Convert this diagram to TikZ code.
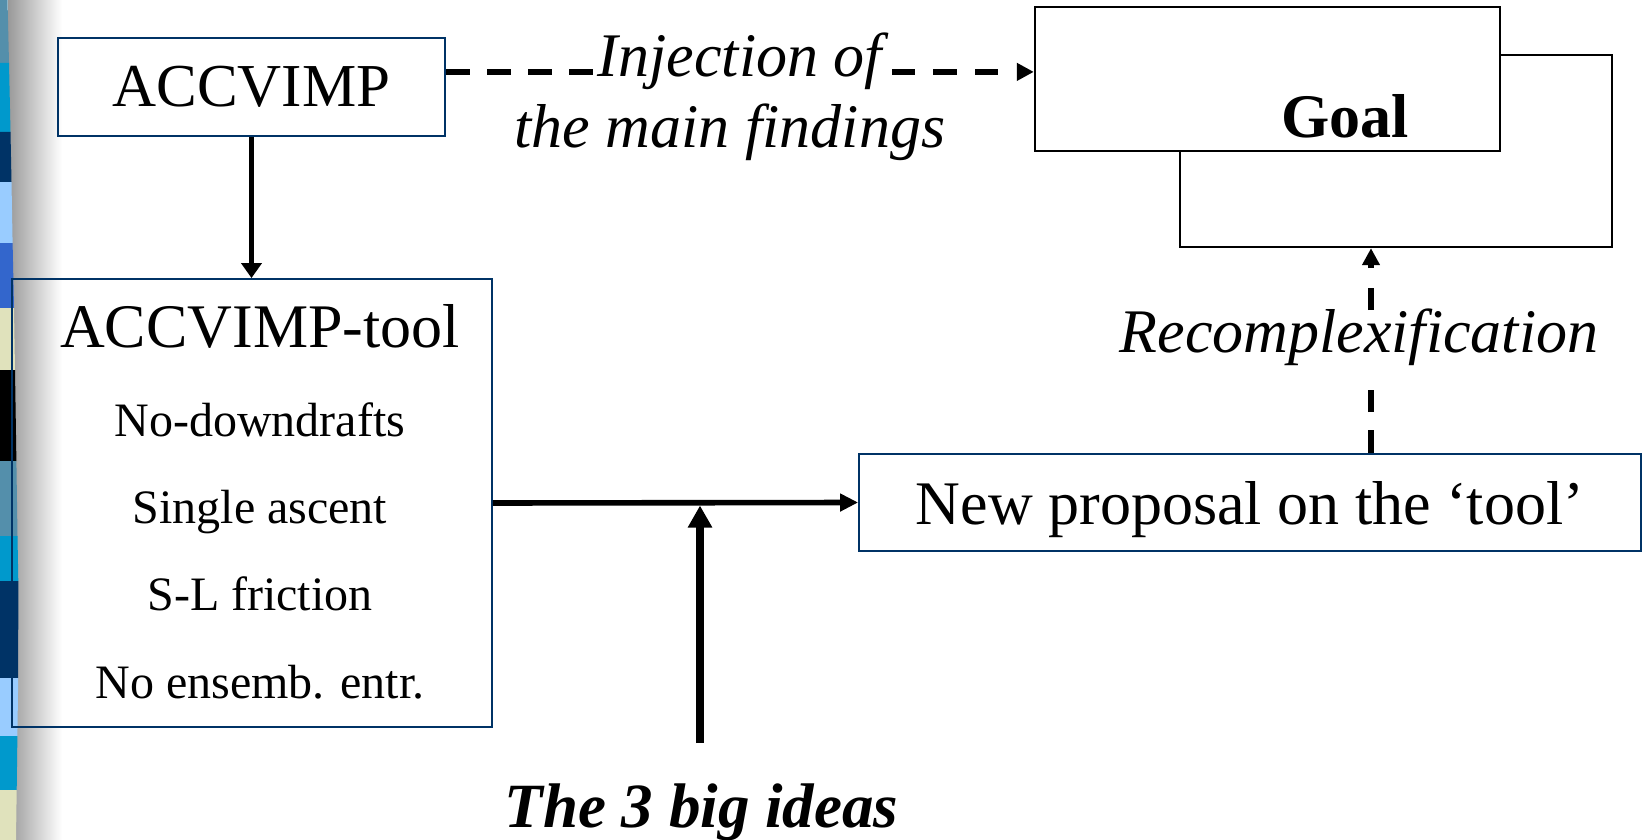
\documentclass[tikz,border=0pt]{standalone}
\usepackage{fontspec}
\setmainfont{Liberation Serif}
\usetikzlibrary{arrows.meta,calc}
\definecolor{navy}{RGB}{0,51,102}
\definecolor{steel}{RGB}{84,143,171}
\definecolor{cyanb}{RGB}{0,153,204}
\definecolor{lightb}{RGB}{153,204,255}
\definecolor{royal}{RGB}{51,102,204}
\definecolor{khaki}{RGB}{224,226,188}
\newcommand\stripseg[5]{\fill[#1] (0,#2) -- (#3,#2) -- (#5,#4) -- (0,#4) -- cycle;}
\tikzset{
  navybox/.style={draw=navy, line width=0.9pt, rectangle, inner sep=0pt},
  goalbox/.style={draw=black, line width=1.2pt, fill=white, rectangle, inner sep=0pt},
  bigtxt/.style={font=\fontsize{31pt}{37pt}\selectfont, inner sep=0pt},
  bigit/.style={font=\fontsize{31pt}{37pt}\selectfont\itshape, inner sep=0pt},
  bigbf/.style={font=\fontsize{31pt}{37pt}\selectfont\bfseries, inner sep=0pt},
  bigbfit/.style={font=\fontsize{31.5pt}{37pt}\selectfont\bfseries\itshape, inner sep=0pt},
  itemtxt/.style={font=\fontsize{24pt}{29pt}\selectfont, inner sep=0pt, anchor=base},
  downarrow/.style={line width=2.5pt, -{Triangle[length=7.5pt,width=10pt]}},
  rightarrow/.style={line width=2.8pt, -{Triangle[length=9pt,width=8.5pt]}},
  thickarrow/.style={line width=4pt, -{Triangle[length=11pt,width=11.5pt]}},
  dasharrow/.style={line width=2.8pt, -{Triangle[length=8.5pt,width=8.5pt]}},
  injdash/.style={dash pattern=on 12pt off 8.5pt on 12pt off 8.5pt on 12pt off 8.5pt on 12pt off 149.5pt on 11.5pt off 9pt on 12pt off 9pt on 11.5pt off 30pt},
  recdash/.style={dash pattern=on 11.5pt off 9pt on 11pt off 40pt on 11pt off 10pt on 10pt off 20pt},
}
\begin{document}
\begin{tikzpicture}[x=0.5pt,y=-0.5pt]
\useasboundingbox (0,0) rectangle (1644,840);
% left decoration
\shade[left color=black!40, right color=white] (8,0) rectangle (62,840);
\stripseg{steel}{0}{7.5}{63}{9}
\stripseg{cyanb}{63}{9}{132}{10.5}
\stripseg{navy}{132}{10.5}{182}{11.5}
\stripseg{lightb}{182}{11.5}{243}{12.6}
\stripseg{royal}{243}{12.6}{308}{14}
\stripseg{khaki}{308}{14}{370}{15}
\stripseg{black}{370}{15}{461}{16.4}
\stripseg{steel}{461}{16.4}{536}{17.5}
\stripseg{cyanb}{536}{17.5}{581}{18.3}
\stripseg{navy}{581}{18.3}{678}{18.2}
\stripseg{lightb}{678}{18.2}{736}{17.4}
\stripseg{cyanb}{736}{17.4}{790}{16.7}
\stripseg{khaki}{790}{16.7}{840}{16}

% boxes
\node[navybox, line width=1.35pt, minimum width=193.5pt, minimum height=49pt, bigtxt, font=\fontsize{30.5pt}{36pt}\selectfont] (acc) at (251.5,87) {ACCVIMP};
\node[navybox, minimum width=240pt, minimum height=224pt] (tool) at (252,503) {};
\node[bigtxt, anchor=base] (tooltitle) at (260,347) {ACCVIMP-tool};
\node[itemtxt] (i1) at (260,436) {No-downdrafts};
\node[itemtxt] (i2) at (260,523) {Single ascent};
\node[itemtxt] (i3) at (260,610) {S-L friction};
\node[itemtxt] (i4) at (260,698) {No ensemb. entr.};
\node[navybox, minimum width=391pt, minimum height=48.5pt, bigtxt, text depth=0pt] (newp) at (1250,502.5) {New proposal on the ‘tool’};
\node[goalbox, minimum width=216pt, minimum height=96pt] (goal2) at (1396,151) {};
\node[goalbox, minimum width=232.5pt, minimum height=72pt] (goal1) at (1267.5,79) {};
\node[bigbf, anchor=base] (goaltxt) at (1345,138) {Goal};

% connectors
\draw[downarrow] (acc.south) -- (acc.south |- tool.north);
\coordinate (injs) at ($(acc.north east)!0.35!(acc.south east)$);
\draw[dasharrow, injdash] (injs) -- (injs -| goal1.west);
\draw[rightarrow] (tool.east) -- (newp.west);
\coordinate (ideasfoot) at (700,743);
\draw[thickarrow] (ideasfoot) -- ($(ideasfoot |- tool.east)+(0,2.5)$);
\coordinate (rcx) at (1371,0);
\draw[dasharrow, recdash] (newp.north -| rcx) -- (rcx |- goal2.south);

% labels
\node[bigit, anchor=base, fill=white, inner xsep=0pt, inner ysep=0pt] (inj1) at (740,77) {Injection of};
\node[bigit, anchor=base] (inj2) at (730,148) {the main findings};
\node[bigit, anchor=base] (recx) at (1359,352) {Recomplexification};
\node[bigbfit, anchor=base] (ideas) at (701.5,827) {The 3 big ideas};
\end{tikzpicture}
\end{document}
